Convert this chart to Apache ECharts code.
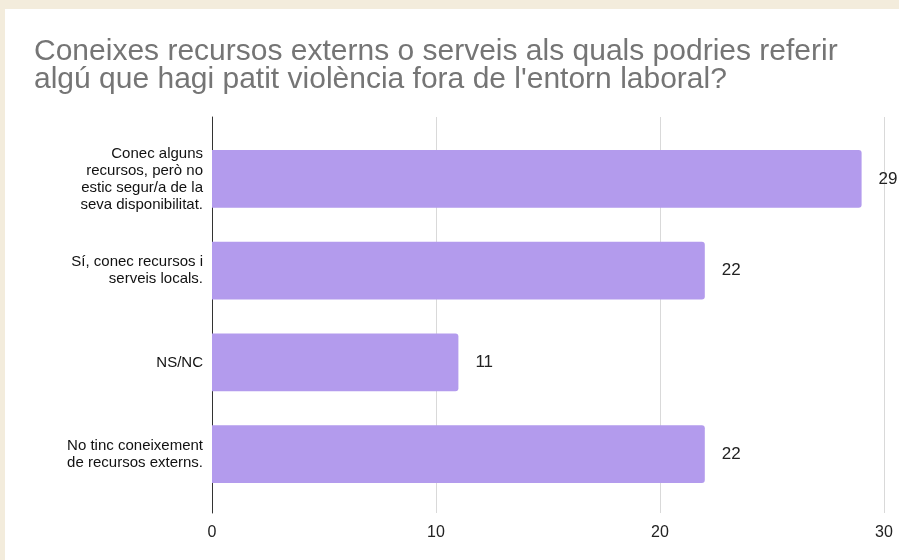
<!DOCTYPE html>
<html>
<head>
<meta charset="utf-8">
<script src="https://cdn.jsdelivr.net/npm/echarts@6/dist/echarts.min.js"></script>
<style>
html,body{margin:0;padding:0;width:899px;height:560px;overflow:hidden;background:#f3ecdc;}
#card{position:absolute;left:5px;top:9px;width:894px;height:551px;background:#ffffff;}
#chart{position:absolute;left:0;top:0;width:960px;height:560px;}
</style>
</head>
<body>
<div id="card"></div>
<div id="chart"></div>
<script>
const titleText = "Coneixes recursos externs o serveis als quals podries referir\nalgú que hagi patit violència fora de l'entorn laboral?";
const categories = [
  "Conec alguns\nrecursos, però no\nestic segur/a de la\nseva disponibilitat.",
  "Sí, conec recursos i\nserveis locals.",
  "NS/NC",
  "No tinc coneixement\nde recursos externs."
];
const values = [29, 22, 11, 22];
const axisMin = 0, axisMax = 30, axisStep = 10;

const chart = echarts.init(document.getElementById('chart'), null, {renderer:'canvas'});
const font = "'Liberation Sans', Arial, sans-serif";
chart.setOption({
  animation:false,
  backgroundColor:'transparent',
  title:{
    text:titleText, left:29, top:33,
    textStyle:{fontFamily:font, fontSize:30, fontWeight:'normal', color:'#757575', lineHeight:28}
  },
  grid:[
    {left:212, right:76, top:133, bottom:60, containLabel:false},
    {left:212, right:76, top:117, bottom:47, containLabel:false}
  ],
  xAxis:[
    {gridIndex:0, type:'value', min:axisMin, max:axisMax, interval:axisStep,
     axisLine:{show:false}, axisTick:{show:false}, axisLabel:{show:false}, splitLine:{show:false}},
    {gridIndex:1, type:'value', min:axisMin, max:axisMax, interval:axisStep,
     axisLine:{show:false}, axisTick:{show:false},
     axisLabel:{show:true, margin:12, fontFamily:font, fontSize:16, color:'#222'},
     splitLine:{show:true, lineStyle:{color:'#d9d9d9', width:1}}}
  ],
  yAxis:[
    {gridIndex:0, type:'category', data:categories, inverse:true,
     axisLine:{show:false}, axisTick:{show:false},
     axisLabel:{margin:9, fontFamily:font, fontSize:15, color:'#111', lineHeight:17, align:'right'}},
    {gridIndex:1, type:'value', min:0, max:1,
     axisLine:{show:true, lineStyle:{color:'#333', width:1}}, axisTick:{show:false},
     axisLabel:{show:false}, splitLine:{show:false}}
  ],
  series:[{
    type:'bar', xAxisIndex:0, yAxisIndex:0, data:values,
    barCategoryGap:'37%',
    itemStyle:{color:'#b39bed', borderRadius:[0,3,3,0]},
    label:{show:true, position:'right', distance:17, fontFamily:font, fontSize:17, color:'#222'}
  }]
});
</script>
</body>
</html>
